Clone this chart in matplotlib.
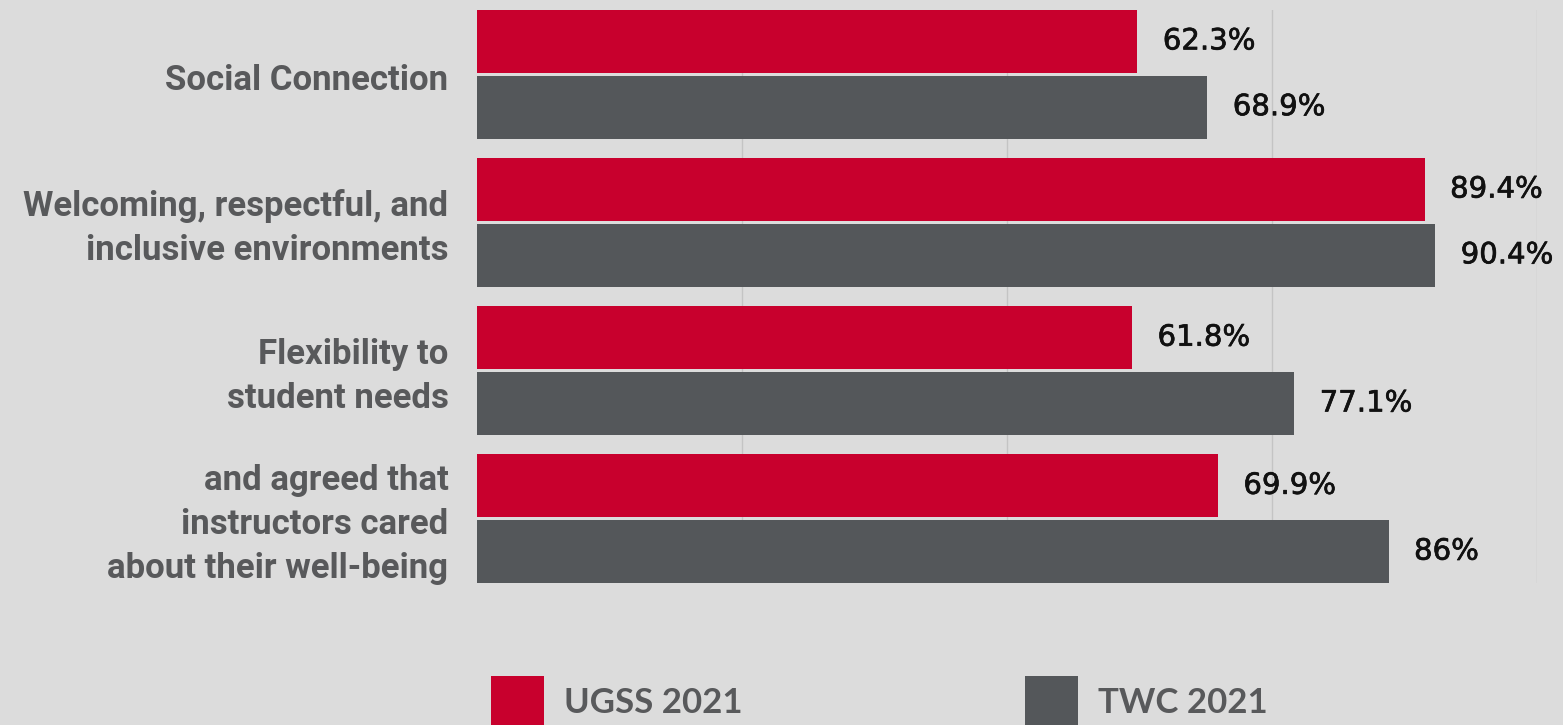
import numpy as np
import matplotlib
matplotlib.use("Agg")
import matplotlib.pyplot as plt
import matplotlib.patheffects as pe
from matplotlib.patches import Rectangle

# data
categories = ["Social Connection",
              "Welcoming, respectful, and\ninclusive environments",
              "Flexibility to\nstudent needs",
              "and agreed that\ninstructors cared\nabout their well-being"]
ugss = [62.3, 89.4, 61.8, 69.9]
twc = [68.9, 90.4, 77.1, 86.0]
ugss_labels = ["62.3%", "89.4%", "61.8%", "69.9%"]
twc_labels = ["68.9%", "90.4%", "77.1%", "86%"]
series_names = ["UGSS 2021", "TWC 2021"]
grid_ticks = [25, 50, 75, 100]

RED = "#c8002d"
GRAY = "#54575a"
BG = "#dcdcdc"
LABEL_COL = "#58595b"

W, H = 1563, 725
fig = plt.figure(figsize=(W / 100, H / 100), dpi=100)
fig.patch.set_facecolor(BG)

ax = fig.add_axes([477 / W, 1 - 583 / H, (1537 - 477) / W, (583 - 10) / H])
ax.set_facecolor(BG)

bh = 0.424
gap = 0.02
y = np.arange(len(categories))
y_red = y - (bh + gap) / 2
y_gray = y + (bh + gap) / 2

ax.barh(y_red, ugss, height=bh, color=RED, zorder=3)
ax.barh(y_gray, twc, height=bh, color=GRAY, zorder=3)

top = y_red[0] - bh / 2
bot = y_gray[-1] + bh / 2
ax.set_ylim(bot, top)
ax.set_xlim(0, 100)

for g in grid_ticks:
    ax.axvline(g, color="#c4c4c4", lw=1.0, zorder=1)

# value labels, slightly thickened to look medium weight
thick = [pe.withStroke(linewidth=0.5, foreground="#111111")]
val_font = dict(family="DejaVu Sans", fontsize=21, color="#111111")
for yi, v, s in zip(y_red, ugss, ugss_labels):
    ax.text(v + 2.4, yi, s, va="center", ha="left", path_effects=thick, **val_font, zorder=4)
for yi, v, s in zip(y_gray, twc, twc_labels):
    ax.text(v + 2.4, yi, s, va="center", ha="left", path_effects=thick, **val_font, zorder=4)

for yi, c in zip(y, categories):
    ax.text(-2.7, yi + 0.04, c, va="center", ha="right", fontsize=25,
            family=["Roboto", "DejaVu Sans"], weight="bold", color=LABEL_COL,
            linespacing=1.42)

ax.set_xticks([])
ax.set_yticks([])
for sp in ax.spines.values():
    sp.set_visible(False)

# legend squares and texts at the bottom
leg_x = [491, 1025]
leg_cols = [RED, GRAY]
for lx, col, name in zip(leg_x, leg_cols, series_names):
    fig.patches.append(Rectangle((lx / W, 0), 53 / W, 49 / H, transform=fig.transFigure,
                                 facecolor=col, edgecolor="none"))
    fig.text((lx + 73) / W, 1 - 703 / H, name, va="center", ha="left", fontsize=25,
             family=["Lato", "DejaVu Sans"], weight="bold", color=LABEL_COL)

fig.savefig("out.png", dpi=100, facecolor=BG)
